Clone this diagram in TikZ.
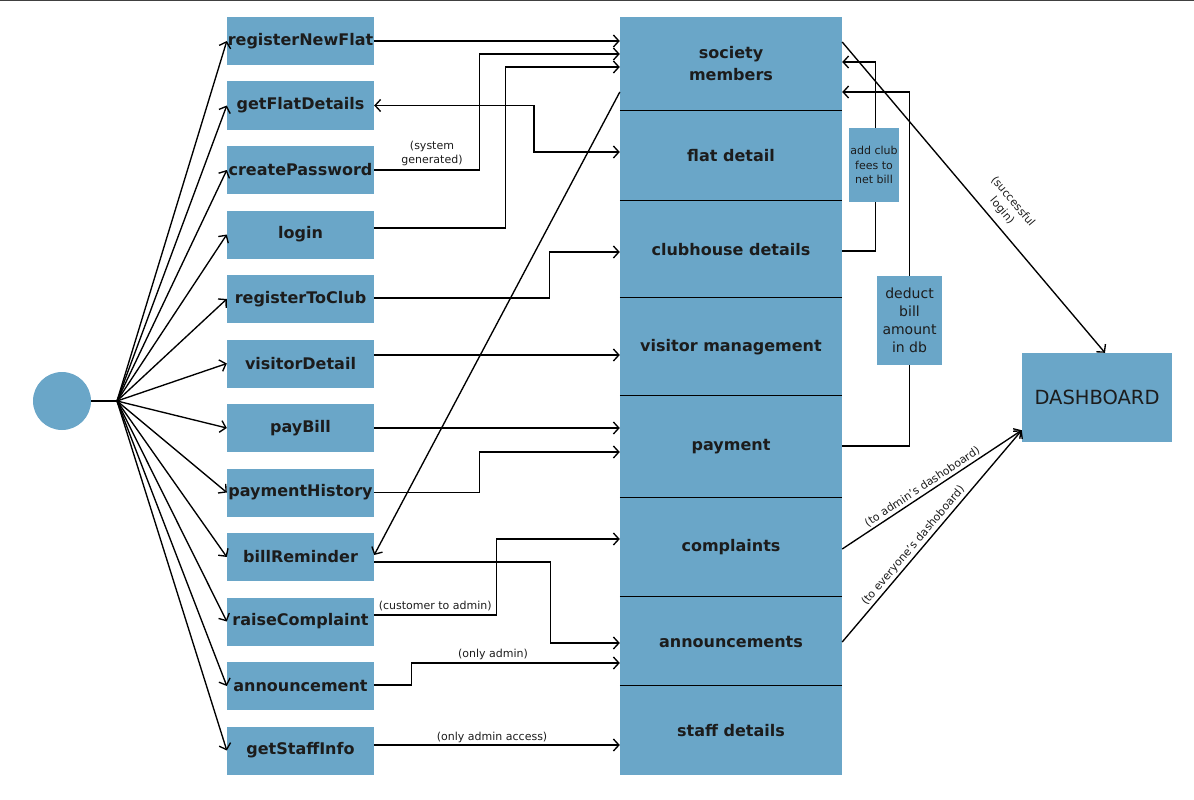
\documentclass[tikz,border=0pt]{standalone}
\usepackage{fontspec}
\setmainfont{DejaVu Sans}
\usetikzlibrary{arrows.meta}
\definecolor{boxblue}{RGB}{106,166,200}
\definecolor{ink}{RGB}{28,28,28}

\begin{document}
\begin{tikzpicture}[x=1pt,y=-1pt,
  >={Straight Barb[length=5.5pt,width=12pt]},
  every node/.style={inner sep=0pt, text=ink},
  fn/.style={fill=boxblue, minimum width=147pt, minimum height=48pt,
    font=\bfseries\fontsize{16}{19}\selectfont},
  part/.style={fill=boxblue, minimum width=222pt, align=center,
    font=\bfseries\fontsize{16}{22}\selectfont},
  note/.style={font=\fontsize{11}{14}\selectfont},
  wire/.style={line width=1.35pt}]
\useasboundingbox (0,0) rectangle (1194,800);
\draw [black!75, line width=1pt] (0,0.5) -- (1194,0.5);

% start point and the fan of calls
\node [circle, fill=boxblue, minimum size=58pt] (start) at (62,401) {};
\coordinate (fan) at (117,401);
\node [fn] (regflat) at (300.5,41) {registerNewFlat};
\node [fn] (getflat) at (300.5,105.5) {getFlatDetails};
\node [fn] (mkpass) at (300.5,170) {createPassword};
\node [fn] (login) at (300.5,234.5) {login};
\node [fn] (regclub) at (300.5,299) {registerToClub};
\node [fn] (visitor) at (300.5,363.5) {visitorDetail};
\node [fn] (paybill) at (300.5,428) {payBill};
\node [fn] (payhist) at (300.5,492.5) {paymentHistory};
\node [fn] (billrem) at (300.5,557) {billReminder};
\node [fn] (complain) at (300.5,621.5) {raiseComplaint};
\node [fn] (announce) at (300.5,686) {announcement};
\node [fn] (staffinfo) at (300.5,750.5) {getStaffInfo};
\draw [wire] (start) -- (fan);
\draw [wire,->] (fan) -- (regflat.west);
\draw [wire,->] (fan) -- (getflat.west);
\draw [wire,->] (fan) -- (mkpass.west);
\draw [wire,->] (fan) -- (login.west);
\draw [wire,->] (fan) -- (regclub.west);
\draw [wire,->] (fan) -- (visitor.west);
\draw [wire,->] (fan) -- (paybill.west);
\draw [wire,->] (fan) -- (payhist.west);
\draw [wire,->] (fan) -- (billrem.west);
\draw [wire,->] (fan) -- (complain.west);
\draw [wire,->] (fan) -- (announce.west);
\draw [wire,->] (fan) -- (staffinfo.west);

% database column
\node [part, minimum height=94pt] (soc) at (731,64) {society\\members};
\node [part, minimum height=90pt] (flat) at (731,156) {flat detail};
\node [part, minimum height=97pt] (club) at (731,249.5) {clubhouse details};
\node [part, minimum height=98pt] (visit) at (731,347) {visitor management};
\node [part, minimum height=102pt] (pay) at (731,447) {payment};
\node [part, minimum height=99pt] (comp) at (731,547.5) {complaints};
\node [part, minimum height=89pt] (ann) at (731,641.5) {announcements};
\node [part, minimum height=89pt] (staff) at (731,730.5) {staff details};
\draw [wire] (flat.north west) -- (flat.north east);
\draw [wire] (club.north west) -- (club.north east);
\draw [wire] (visit.north west) -- (visit.north east);
\draw [wire] (pay.north west) -- (pay.north east);
\draw [wire] (comp.north west) -- (comp.north east);
\draw [wire] (ann.north west) -- (ann.north east);
\draw [wire] (staff.north west) -- (staff.north east);

\node [fill=boxblue, minimum width=150pt, minimum height=89pt,
  font=\fontsize{19.5}{22}\selectfont] (dash) at (1097,397.5) {DASHBOARD};

% calls into the column
\draw [wire,->] (regflat.east) -- (soc.west |- 0,41);
\draw [wire,<->] (getflat.east) -| (534,152) -- (flat.west |- 0,152);
\draw [wire,->] (mkpass.east) -- ++(105,0) |- (soc.west |- 0,54);
\node [note, align=center] (sysgen) at (432,153) {(system\\generated)};
\draw [wire,->] (login.east |- 0,228) -- ++(131,0) |- (soc.west |- 0,67);
\draw [wire,->] (regclub.east |- 0,298) -- ++(175,0) |- (club.west |- 0,252);
\draw [wire,->] (visitor.east |- 0,355) -- (visit.west |- 0,355);
\draw [wire,->] (paybill.east) -- (pay.west |- 0,428);
\draw [wire,->] (payhist.east) -- ++(105,0) |- (pay.west |- 0,452);
\draw [wire,->] (soc.west |- 0,92) -- (billrem.east |- 0,555);
\draw [wire,->] (billrem.east |- 0,562) -- ++(176,0) |- (ann.west |- 0,643);
\draw [wire,->] (complain.east |- 0,615) -- ++(122,0)
  node [note, midway, above=3pt] (custadm) {(customer to admin)}
  |- (comp.west |- 0,539);
\draw [wire,->] (announce.east |- 0,685) -- ++(37,0) |- (ann.west |- 0,663);
\node [note, above=3pt] (onlyadm) at (493,663) {(only admin)};
\draw [wire,->] (staffinfo.east |- 0,745) -- (staff.west |- 0,745)
  node [note, pos=0.48, above=2pt] (onlyacc) {(only admin access)};

% loops back to society members
\draw [wire,->] (club.east |- 0,251) -- ++(33,0) |- (soc.east |- 0,62);
\draw [wire,->] (pay.east |- 0,446) -- ++(67,0) |- (soc.east |- 0,92);
\node [fill=boxblue, minimum width=50pt, minimum height=74pt, align=center,
  font=\fontsize{11}{14.5}\selectfont] (clubfee) at (874,165) {add club\\fees to\\net bill};
\node [fill=boxblue, minimum width=65pt, minimum height=89pt, align=center,
  font=\fontsize{14}{18}\selectfont] (deduct) at (909.5,320.5) {deduct\\bill\\amount\\in db};

% to the dashboard
\draw [wire,->] (soc.east |- 0,42) -- ([xshift=8pt]dash.north)
  node [note, pos=0.57, sloped, above=7pt, align=center] (loginok) {(successful\\login)};
\draw [wire,->] (comp.east |- 0,549) -- ([yshift=12pt]dash.south west)
  node [note, pos=0.47, sloped, above=2pt] (toadm) {(to admin's dashoboard)};
\draw [wire,->] (ann.east |- 0,642) -- ([yshift=12pt]dash.south west)
  node [note, pos=0.43, sloped, above=2pt] (toall) {(to everyone's dashoboard)};
\end{tikzpicture}
\end{document}
